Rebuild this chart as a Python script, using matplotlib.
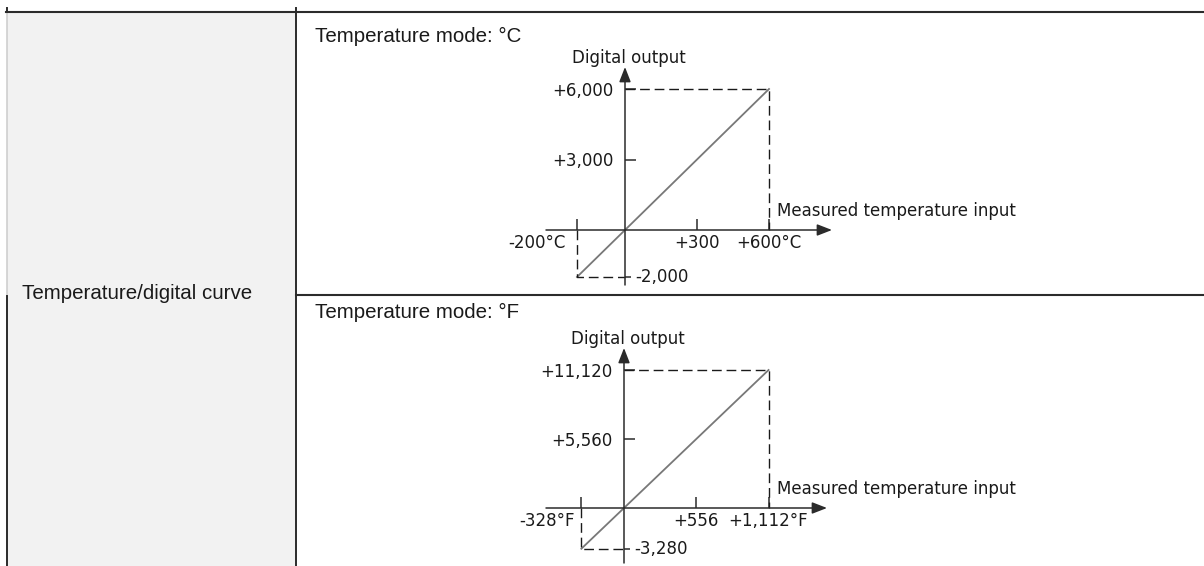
import matplotlib
matplotlib.use("Agg")
import matplotlib.pyplot as plt
from matplotlib.patches import Rectangle

plt.rcParams['lines.scale_dashes'] = False

W, H = 1204, 566

row_label = "Temperature/digital curve"
y_name = "Digital output"
x_name = "Measured temperature input"

# Celsius mode
c_title = "Temperature mode: °C"
c_x = [-200, 600]
c_y = [-2000, 6000]
c_xticks = [-200, 300, 600]
c_xlabels = ["-200°C", "+300", "+600°C"]
c_yticks = [-2000, 3000, 6000]
c_ylabels = ["-2,000", "+3,000", "+6,000"]

# Fahrenheit mode
f_title = "Temperature mode: °F"
f_x = [-328, 1112]
f_y = [-3280, 11120]
f_xticks = [-328, 556, 1112]
f_xlabels = ["-328°F", "+556", "+1,112°F"]
f_yticks = [-3280, 5560, 11120]
f_ylabels = ["-3,280", "+5,560", "+11,120"]

line_c = '#2b2b2b'
text_c = '#1a1a1a'
label_font = 'DejaVu Sans'
body_font = 'Liberation Sans'


def draw_curve(fig, box, origin, scale, xs, ys, xticks, xlabels, yticks, ylabels, first_dx):
    # box/origin in pixels of the picture, scale in pixels per unit
    left, right, top, bottom = box
    ox, oy = origin
    sx, sy = scale
    ax = fig.add_axes([left / W, 1 - bottom / H, (right - left) / W, (bottom - top) / H])
    ax.set_xlim((left - ox) / sx, (right - ox) / sx)
    ax.set_ylim((oy - bottom) / sy, (oy - top) / sy)
    ax.patch.set_visible(False)
    for s in ['top', 'right', 'left', 'bottom']:
        ax.spines[s].set_visible(False)
    ax.spines['left'].set_position(('data', 0))
    ax.spines['bottom'].set_position(('data', 0))

    arrow = dict(arrowstyle='-|>,head_length=0.9,head_width=0.35', color=line_c,
                 lw=1.1, shrinkA=0, shrinkB=0, mutation_scale=10)
    ty = ax.get_yaxis_transform()
    tx = ax.get_xaxis_transform()
    ax.annotate('', xy=(1, 0), xytext=(0, 0), xycoords=ty, textcoords=ty, arrowprops=arrow)
    ax.annotate('', xy=(0, 1), xytext=(0, 0), xycoords=tx, textcoords=tx, arrowprops=arrow)

    ax.plot(xs, ys, color='#787878', lw=1.3)
    dash = dict(color='#1a1a1a', lw=1.0, ls=(0, (7, 3.5)))
    ax.plot([0, xs[1], xs[1]], [ys[1], ys[1], 0], **dash)
    ax.plot([xs[0], xs[0], 0], [0, ys[0], ys[0]], **dash)

    ax.set_xticks(xticks, [''] + xlabels[1:])
    ax.set_yticks(yticks, [''] + ylabels[1:])
    ax.tick_params(direction='in', length=8, width=1.1, color=line_c,
                   labelsize=12, labelcolor=text_c)
    ax.tick_params(axis='x', pad=3)
    ax.tick_params(axis='y', pad=8.5)
    ax.yaxis.get_major_ticks()[0].tick1line.set_markersize(4)
    for lab in ax.get_xticklabels() + ax.get_yticklabels():
        lab.set_family(label_font)

    ax.annotate(xlabels[0], xy=(xticks[0], 0), xytext=(first_dx, -3), textcoords='offset points',
                ha='right', va='top', fontsize=12, color=text_c, family=label_font)
    ax.annotate(ylabels[0], xy=(0, yticks[0]), xytext=(7.5, 0), textcoords='offset points',
                ha='left', va='center', fontsize=12, color=text_c, family=label_font)
    ax.annotate(y_name, xy=(0, 1), xycoords=tx, xytext=(3, 3), textcoords='offset points',
                ha='center', va='baseline', fontsize=12, color=text_c, family=label_font)
    ax.annotate(x_name, xy=(xs[1], 0), xytext=(6, 10), textcoords='offset points',
                ha='left', va='baseline', fontsize=12, color=text_c, family=label_font)
    return ax


fig = plt.figure(figsize=(W / 100, H / 100), dpi=100)

# table frame
bg = fig.add_axes([0, 0, 1, 1])
bg.set_xlim(0, W)
bg.set_ylim(H, 0)
bg.axis('off')
bg.add_patch(Rectangle((7, 12), 289, H - 12, color='#f2f2f2', lw=0))
bg.plot([7, 7], [12, 296], color='#cfcfcf', lw=1.2)
bg.plot([7, 7], [296, H], color=line_c, lw=1.4)
bg.plot([7, 7], [8, 12], color=line_c, lw=1.4)
bg.plot([6, W], [12, 12], color=line_c, lw=1.5)
bg.plot([296, 296], [8, H], color=line_c, lw=1.4)
bg.plot([296, W], [295, 295], color=line_c, lw=1.5)

fig.text(22 / W, 1 - 299 / H, row_label, fontsize=14.8, family=body_font,
         color=text_c, va='baseline')
fig.text(315 / W, 1 - 42 / H, c_title, fontsize=14.8, family=body_font,
         color=text_c, va='baseline')
fig.text(315 / W, 1 - 318 / H, f_title, fontsize=14.8, family=body_font,
         color=text_c, va='baseline')

draw_curve(fig, (546, 832, 67, 285), (625, 230), (0.24, 0.0235),
           c_x, c_y, c_xticks, c_xlabels, c_yticks, c_ylabels, -8)
draw_curve(fig, (546, 827, 348, 563), (624, 508), (0.13, 0.01241),
           f_x, f_y, f_xticks, f_xlabels, f_yticks, f_ylabels, -5)

fig.savefig('out.png', dpi=100)
